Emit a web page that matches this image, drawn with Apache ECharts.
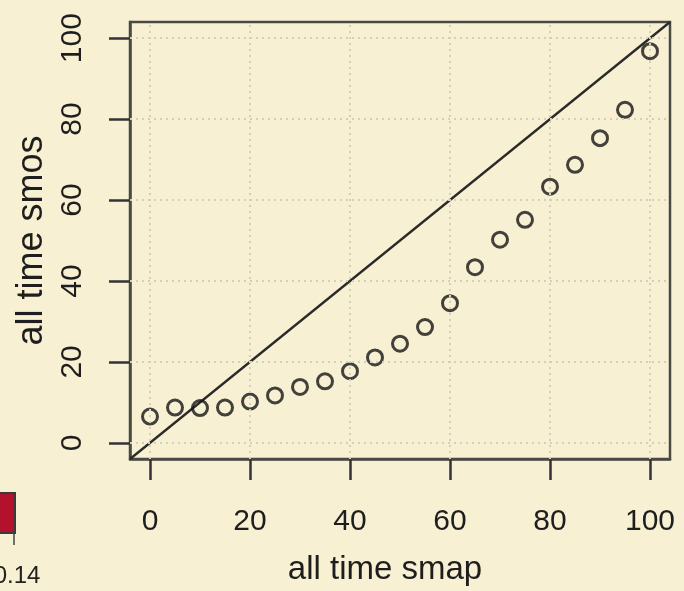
<!DOCTYPE html>
<html>
<head>
<meta charset="utf-8">
<script src="https://cdn.jsdelivr.net/npm/echarts@6/dist/echarts.min.js"></script>
<style>
html,body{margin:0;padding:0;background:#f8f0d2;}
#c{width:684px;height:591px;}
</style>
</head>
<body>
<div id="c"></div>
<script>
const smap = [0,5,10,15,20,25,30,35,40,45,50,55,60,65,70,75,80,85,90,95,100];
const smos = [6.5,8.7,8.6,8.7,10.2,11.7,13.8,15.2,17.7,21.1,24.5,28.6,34.5,43.4,50.2,55.1,63.3,68.7,75.3,82.3,96.8];
const tickValues = [0,20,40,60,80,100];
const axisRange = [-4,104];
const xTitle = 'all time smap';
const yTitle = 'all time smos';

const chart = echarts.init(document.getElementById('c'), null, {renderer:'canvas'});
const font = '"Liberation Sans", Arial, Helvetica, sans-serif';
const gridLineStyle = {color:'#d3cfbd', width:2, type:[2,4]};
const boxColor = '#4a4a44';

chart.setOption({
  backgroundColor:'#f8f0d2',
  animation:false,
  grid:{left:130, top:22, right:14, bottom:128, show:true, borderColor:boxColor, borderWidth:2.5, backgroundColor:'transparent'},
  xAxis:{
    type:'value', min:axisRange[0], max:axisRange[1],
    axisLine:{show:true, onZero:false, lineStyle:{color:boxColor, width:2.5}},
    axisTick:{show:true, inside:false, length:21, customValues:tickValues, lineStyle:{color:'#333', width:2.5}},
    axisLabel:{customValues:tickValues, margin:48, fontSize:30, color:'#1e1e1e', fontFamily:font},
    splitLine:{show:false},
    name:xTitle, nameLocation:'middle', nameGap:94,
    nameTextStyle:{fontSize:33, color:'#1e1e1e', fontFamily:font, padding:[0,30,0,0]}
  },
  yAxis:{
    type:'value', min:axisRange[0], max:axisRange[1],
    axisLine:{show:true, onZero:false, lineStyle:{color:boxColor, width:2.5}},
    axisTick:{show:true, inside:false, length:21, customValues:tickValues, lineStyle:{color:'#333', width:2.5}},
    axisLabel:{customValues:tickValues, margin:42, rotate:90, fontSize:30, color:'#1e1e1e', fontFamily:font, align:'center', verticalAlign:'bottom'},
    splitLine:{show:false},
    name:yTitle, nameLocation:'middle', nameGap:78, nameRotate:90,
    nameTextStyle:{fontSize:36, color:'#1e1e1e', fontFamily:font}
  },
  series:[
    {
      type:'line', data:[], silent:true,
      markLine:{
        silent:true, symbol:['none','none'], label:{show:false},
        lineStyle:gridLineStyle,
        data: tickValues.map(v=>({xAxis:v})).concat(tickValues.map(v=>({yAxis:v})))
      }
    },
    {
      type:'line', data:[[axisRange[0],axisRange[0]],[axisRange[1],axisRange[1]]],
      showSymbol:false, lineStyle:{color:'#2a2a2a', width:2.3}, silent:true, z:3
    },
    {
      type:'scatter', data:smap.map((x,i)=>[x,smos[i]]),
      symbol:'circle', symbolSize:15,
      itemStyle:{color:'rgba(0,0,0,0)', borderColor:'#141414', borderWidth:3},
      z:4
    }
  ],
  graphic:[
    {type:'rect', shape:{x:-5, y:493, width:20, height:40}, style:{fill:'#b3122f', stroke:'#3a3a3a', lineWidth:2}},
    {type:'line', shape:{x1:14, y1:533, x2:14, y2:545}, style:{stroke:'#444', lineWidth:1.5}},
    {type:'text', style:{text:'0.14', x:17, y:576, fontSize:24, fill:'#222', fontFamily:font, align:'center', verticalAlign:'middle'}}
  ]
});
</script>
</body>
</html>
